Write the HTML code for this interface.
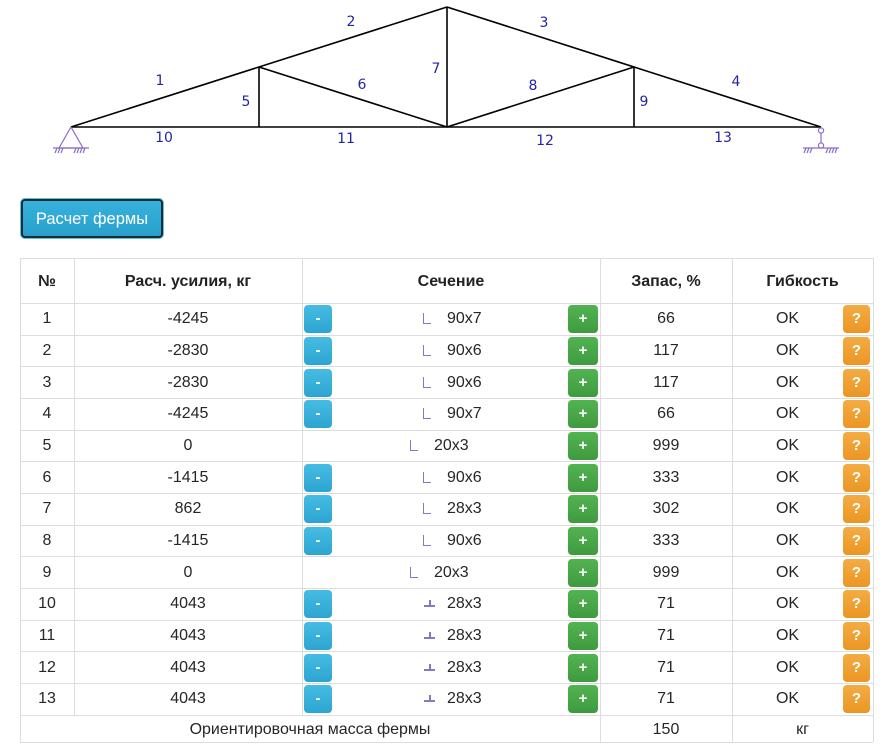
<!DOCTYPE html>
<html><head><meta charset="utf-8">
<style>
html,body{margin:0;padding:0;background:#fff;}
body{width:894px;height:750px;position:relative;overflow:hidden;font-family:"Liberation Sans",sans-serif;color:#262626;}
.a{position:absolute;}
.h{position:absolute;height:1px;background:#ddd;}
.v{position:absolute;width:1px;background:#ddd;}
.t{position:absolute;font-size:16px;line-height:20px;text-align:center;white-space:nowrap;}
.hd{font-weight:bold;color:#222;}
.row{position:absolute;left:0;width:894px;height:31px;}
.row .t{top:6px;}
.bm,.bp,.bq{position:absolute;top:2px;height:28px;border-radius:4px;color:#fff;font-size:15px;line-height:28px;text-align:center;font-weight:bold;}
.bm{width:28px;left:304px;background:linear-gradient(#45bce2,#2da5d2);}
.bp{width:30px;left:568px;background:linear-gradient(#52b352,#3f9a3f);}
.bq{width:27px;left:843px;background:linear-gradient(#f3ac44,#eb9624);}
.L{position:absolute;top:10px;width:7px;height:10px;border-left:1.5px solid #8878c0;border-bottom:1.5px solid #8878c0;}
.Th{position:absolute;top:17px;left:424px;width:11px;height:2px;background:#8878c0;}
.Tv{position:absolute;top:12px;left:428.5px;width:2px;height:6px;background:#8878c0;}
.c1{left:20px;width:54px;}
.c2{left:74px;width:228px;}
.sx{left:447px;text-align:left !important;}
.sx0{left:434px;text-align:left !important;}
.c4{left:600px;width:132px;}
.c5{left:732px;width:111px;}
</style></head><body>
<svg class="a" style="left:0;top:0" width="894" height="170">
 <g stroke="#000" stroke-width="1.6" fill="none">
  <line x1="71" y1="127" x2="821" y2="127"/>
  <line x1="71" y1="127" x2="447" y2="7"/>
  <line x1="447" y1="7" x2="821" y2="127"/>
  <line x1="259" y1="67" x2="259" y2="127"/>
  <line x1="447" y1="7" x2="447" y2="127"/>
  <line x1="634" y1="67" x2="634" y2="127"/>
  <line x1="259" y1="67" x2="447" y2="127"/>
  <line x1="447" y1="127" x2="634" y2="67"/>
 </g>
 <g stroke="#8a6cc8" stroke-width="1.2" fill="none">
  <polyline points="71,127 59,148 83,148 71,127"/>
  <line x1="53" y1="148" x2="89" y2="148"/>
  <line x1="55" y1="153" x2="57" y2="148"/><line x1="58" y1="153" x2="60" y2="148"/><line x1="61" y1="153" x2="63" y2="148"/>
  <line x1="74" y1="153" x2="76" y2="148"/><line x1="77" y1="153" x2="79" y2="148"/><line x1="80" y1="153" x2="82" y2="148"/><line x1="83" y1="153" x2="85" y2="148"/>
  <circle cx="821" cy="130.5" r="2.6" fill="#fff"/>
  <line x1="821" y1="133" x2="821" y2="143"/>
  <circle cx="821" cy="145.5" r="2.6" fill="#fff"/>
  <line x1="803" y1="148" x2="839" y2="148"/>
  <line x1="804" y1="153" x2="806" y2="148"/><line x1="807" y1="153" x2="809" y2="148"/><line x1="810" y1="153" x2="812" y2="148"/>
  <line x1="826" y1="153" x2="828" y2="148"/><line x1="829" y1="153" x2="831" y2="148"/><line x1="832" y1="153" x2="834" y2="148"/><line x1="835" y1="153" x2="837" y2="148"/>
 </g>
 <g fill="#2424a8" font-family="DejaVu Sans, Liberation Sans, sans-serif" font-size="14" text-anchor="middle" dominant-baseline="central">
  <text x="160" y="81">1</text><text x="351" y="22">2</text><text x="544" y="23">3</text><text x="736" y="82">4</text>
  <text x="246" y="102">5</text><text x="362" y="85">6</text><text x="436" y="69">7</text><text x="533" y="86">8</text>
  <text x="644" y="102">9</text><text x="164" y="138">10</text><text x="346" y="139">11</text><text x="545" y="141">12</text><text x="723" y="138">13</text>
 </g>
</svg>

<div class="a" style="left:20px;top:198px;width:144px;height:41px;border-radius:5px;background:#5cc3e3;"></div>
<div class="a" style="left:21px;top:199px;width:138px;height:35px;border-radius:4px;border:2px solid #1b2b33;background:linear-gradient(#36b2dc,#2a9fcc);"></div>
<div class="t" style="left:20px;top:209px;width:144px;color:#fff;font-size:16.5px;">Расчет фермы</div>

<!-- grid -->
<div class="h" style="left:20px;top:258px;width:853px"></div>
<div class="h" style="left:20px;top:303px;width:853px"></div>
<div class="h" style="left:20px;top:335px;width:853px"></div>
<div class="h" style="left:20px;top:366px;width:853px"></div>
<div class="h" style="left:20px;top:398px;width:853px"></div>
<div class="h" style="left:20px;top:430px;width:853px"></div>
<div class="h" style="left:20px;top:461px;width:853px"></div>
<div class="h" style="left:20px;top:493px;width:853px"></div>
<div class="h" style="left:20px;top:525px;width:853px"></div>
<div class="h" style="left:20px;top:556px;width:853px"></div>
<div class="h" style="left:20px;top:588px;width:853px"></div>
<div class="h" style="left:20px;top:620px;width:853px"></div>
<div class="h" style="left:20px;top:651px;width:853px"></div>
<div class="h" style="left:20px;top:683px;width:853px"></div>
<div class="h" style="left:20px;top:715px;width:853px"></div>
<div class="h" style="left:20px;top:742px;width:853px"></div>
<div class="v" style="left:20px;top:258px;height:484px"></div>
<div class="v" style="left:74px;top:258px;height:457px"></div>
<div class="v" style="left:302px;top:258px;height:457px"></div>
<div class="v" style="left:600px;top:258px;height:484px"></div>
<div class="v" style="left:732px;top:258px;height:484px"></div>
<div class="v" style="left:873px;top:258px;height:484px"></div>

<!-- header -->
<div class="t hd" style="left:20px;top:272px;width:54px">№</div>
<div class="t hd" style="left:74px;top:272px;width:228px">Расч. усилия, кг</div>
<div class="t hd" style="left:302px;top:272px;width:298px">Сечение</div>
<div class="t hd" style="left:600px;top:272px;width:132px">Запас, %</div>
<div class="t hd" style="left:732px;top:272px;width:141px">Гибкость</div>

<!-- rows -->
<div class="row" style="top:303.3px">
 <div class="t c1">1</div><div class="t c2">-4245</div>
 <div class="bm">-</div><div class="L" style="left:423px"></div><div class="t sx">90x7</div><div class="bp">+</div>
 <div class="t c4">66</div><div class="t c5">OK</div><div class="bq">?</div>
</div>
<div class="row" style="top:335px">
 <div class="t c1">2</div><div class="t c2">-2830</div>
 <div class="bm">-</div><div class="L" style="left:423px"></div><div class="t sx">90x6</div><div class="bp">+</div>
 <div class="t c4">117</div><div class="t c5">OK</div><div class="bq">?</div>
</div>
<div class="row" style="top:366.6px">
 <div class="t c1">3</div><div class="t c2">-2830</div>
 <div class="bm">-</div><div class="L" style="left:423px"></div><div class="t sx">90x6</div><div class="bp">+</div>
 <div class="t c4">117</div><div class="t c5">OK</div><div class="bq">?</div>
</div>
<div class="row" style="top:398.3px">
 <div class="t c1">4</div><div class="t c2">-4245</div>
 <div class="bm">-</div><div class="L" style="left:423px"></div><div class="t sx">90x7</div><div class="bp">+</div>
 <div class="t c4">66</div><div class="t c5">OK</div><div class="bq">?</div>
</div>
<div class="row" style="top:430px">
 <div class="t c1">5</div><div class="t c2">0</div>
 <div class="L" style="left:410px"></div><div class="t sx0">20x3</div><div class="bp">+</div>
 <div class="t c4">999</div><div class="t c5">OK</div><div class="bq">?</div>
</div>
<div class="row" style="top:461.6px">
 <div class="t c1">6</div><div class="t c2">-1415</div>
 <div class="bm">-</div><div class="L" style="left:423px"></div><div class="t sx">90x6</div><div class="bp">+</div>
 <div class="t c4">333</div><div class="t c5">OK</div><div class="bq">?</div>
</div>
<div class="row" style="top:493.3px">
 <div class="t c1">7</div><div class="t c2">862</div>
 <div class="bm">-</div><div class="L" style="left:423px"></div><div class="t sx">28x3</div><div class="bp">+</div>
 <div class="t c4">302</div><div class="t c5">OK</div><div class="bq">?</div>
</div>
<div class="row" style="top:525px">
 <div class="t c1">8</div><div class="t c2">-1415</div>
 <div class="bm">-</div><div class="L" style="left:423px"></div><div class="t sx">90x6</div><div class="bp">+</div>
 <div class="t c4">333</div><div class="t c5">OK</div><div class="bq">?</div>
</div>
<div class="row" style="top:556.7px">
 <div class="t c1">9</div><div class="t c2">0</div>
 <div class="L" style="left:410px"></div><div class="t sx0">20x3</div><div class="bp">+</div>
 <div class="t c4">999</div><div class="t c5">OK</div><div class="bq">?</div>
</div>
<div class="row" style="top:588.3px">
 <div class="t c1">10</div><div class="t c2">4043</div>
 <div class="bm">-</div><div class="Th"></div><div class="Tv"></div><div class="t sx">28x3</div><div class="bp">+</div>
 <div class="t c4">71</div><div class="t c5">OK</div><div class="bq">?</div>
</div>
<div class="row" style="top:620px">
 <div class="t c1">11</div><div class="t c2">4043</div>
 <div class="bm">-</div><div class="Th"></div><div class="Tv"></div><div class="t sx">28x3</div><div class="bp">+</div>
 <div class="t c4">71</div><div class="t c5">OK</div><div class="bq">?</div>
</div>
<div class="row" style="top:651.7px">
 <div class="t c1">12</div><div class="t c2">4043</div>
 <div class="bm">-</div><div class="Th"></div><div class="Tv"></div><div class="t sx">28x3</div><div class="bp">+</div>
 <div class="t c4">71</div><div class="t c5">OK</div><div class="bq">?</div>
</div>
<div class="row" style="top:683.3px">
 <div class="t c1">13</div><div class="t c2">4043</div>
 <div class="bm">-</div><div class="Th"></div><div class="Tv"></div><div class="t sx">28x3</div><div class="bp">+</div>
 <div class="t c4">71</div><div class="t c5">OK</div><div class="bq">?</div>
</div>

<!-- footer -->
<div class="t" style="left:20px;top:720px;width:580px">Ориентировочная масса фермы</div>
<div class="t" style="left:600px;top:720px;width:132px">150</div>
<div class="t" style="left:732px;top:720px;width:141px">кг</div>
</body></html>
